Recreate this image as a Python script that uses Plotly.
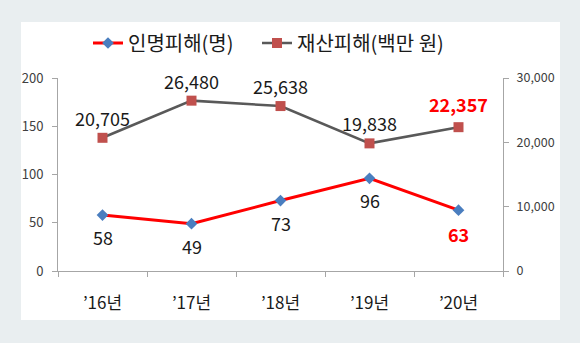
import plotly.graph_objects as go

years = ["’16년", "’17년", "’18년", "’19년", "’20년"]
casualties = [58, 49, 73, 96, 63]
damage = [20705, 26480, 25638, 19838, 22357]
left_ticks = [0, 50, 100, 150, 200]
right_ticks = [0, 10000, 20000, 30000]

FONT = "Noto Sans CJK KR"
PW, PH = 445, 193  # plot area size in px

fig = go.Figure()
fig.add_trace(go.Scatter(
    x=years, y=casualties, name="인명피해(명)", mode="lines+markers",
    line=dict(color="#ff0000", width=3),
    marker=dict(symbol="diamond", size=9, color="#4a7ebf"),
    yaxis="y", legend="legend",
))
fig.add_trace(go.Scatter(
    x=years, y=damage, name="재산피해(백만 원)", mode="lines+markers",
    line=dict(color="#595959", width=2.6),
    marker=dict(symbol="square", size=10, color="#c0504d"),
    yaxis="y2", legend="legend2",
))

n = len(years)
for i, (yr, v) in enumerate(zip(years, casualties)):
    last = i == n - 1
    fig.add_annotation(
        x=yr, y=v, xref="x", yref="y", text=("<b>%d</b>" % v) if last else str(v),
        showarrow=False, yshift=-24 if last else -22,
        font=dict(family=FONT, size=18, color="#ff0000" if last else "#1a1a1a"))
for i, (yr, v) in enumerate(zip(years, damage)):
    last = i == n - 1
    t = f"{v:,}"
    fig.add_annotation(
        x=yr, y=v, xref="x", yref="y2", text=("<b>" + t + "</b>") if last else t,
        showarrow=False, yshift=23 if last else 20,
        font=dict(family=FONT, size=18, color="#ff0000" if last else "#1a1a1a"))

fig.add_shape(type="rect", xref="paper", yref="paper",
              x0=-37/PW, x1=502/PW, y0=(271-320)/PH, y1=(271-22)/PH,
              fillcolor="white", line=dict(width=0), layer="below")

leg_common = dict(orientation="h", yref="paper", y=1 + (78-43)/PH, yanchor="middle",
                  xanchor="left", font=dict(family=FONT, size=20, color="#1a1a1a"),
                  bgcolor="rgba(0,0,0,0)", itemwidth=30)

fig.update_layout(
    width=580, height=343,
    margin=dict(l=58, r=77, t=78, b=72),
    paper_bgcolor="#e9eef0", plot_bgcolor="white",
    font=dict(family=FONT, color="#404040"),
    showlegend=True,
    legend=dict(x=(88-58)/PW, **leg_common),
    legend2=dict(x=(257-58)/PW, **leg_common),
    xaxis=dict(range=[-0.5, 4.5], showline=True, linecolor="#a6a6a6", linewidth=1,
               ticks="outside", tickson="boundaries", tickcolor="#a6a6a6", ticklen=5,
               tickfont=dict(family=FONT, size=17, color="#1a1a1a"), showgrid=False,
               zeroline=False, ticklabelstandoff=17),
    yaxis=dict(range=[0, 200], tickvals=left_ticks, showline=True, linecolor="#a6a6a6",
               ticks="outside", tickcolor="#a6a6a6", ticklen=5, showgrid=False, zeroline=False,
               ticklabelstandoff=6,
               tickfont=dict(family=FONT, size=13, color="#404040")),
    yaxis2=dict(range=[0, 30000], tickvals=right_ticks, overlaying="y", side="right",
                showline=True, linecolor="#a6a6a6", ticks="outside", tickcolor="#a6a6a6",
                ticklen=5, showgrid=False, zeroline=False, tickformat=",",
                ticklabelstandoff=5,
                tickfont=dict(family=FONT, size=12.5, color="#404040")),
)

fig.write_html("out.html")
